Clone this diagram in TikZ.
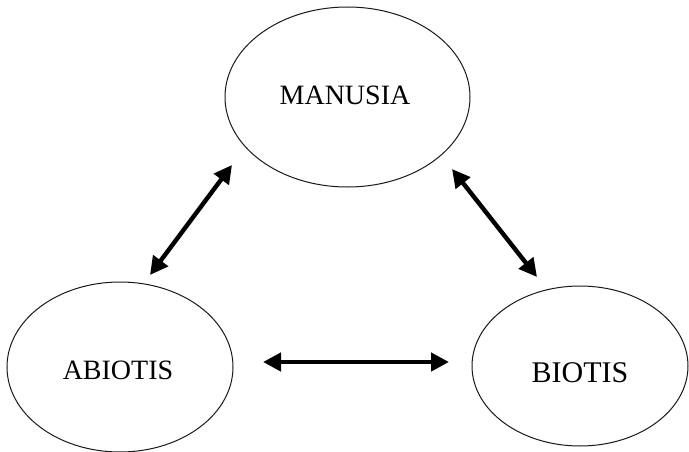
\documentclass[tikz,border=0pt]{standalone}
\usepackage{fontspec}
\setmainfont{Liberation Serif}
\usetikzlibrary{shapes.geometric,arrows.meta}
\begin{document}
\begin{tikzpicture}[x=1pt,y=-1pt,
  ell/.style={draw=black!90,line width=1pt,ellipse,inner sep=0pt},
  arr/.style={line width=4.4pt,{Triangle[length=18pt,width=18pt]}-{Triangle[length=18pt,width=18pt]}}]
\useasboundingbox (0,0) rectangle (689,452);
\node[ell,minimum width=245pt,minimum height=180pt] (m) at (347.5,97) {};
\node at (345,95) {\fontsize{28}{30}\selectfont MANUSIA};
\node[ell,minimum width=226pt,minimum height=170pt] (a) at (120,367) {};
\node at (118,370) {\fontsize{28}{30}\selectfont ABIOTIS};
\node[ell,minimum width=216pt,minimum height=160pt] (b) at (580,366) {};
\node at (580,373) {\fontsize{30}{32}\selectfont BIOTIS};
\coordinate (am) at (232,165);
\coordinate (ma) at (150,275);
\coordinate (bm) at (452,169);
\coordinate (mb) at (537,277);
\coordinate (ab) at (263,362);
\coordinate (ba) at (449,362);
\draw[arr] (ma) -- (am);
\draw[arr] (bm) -- (mb);
\draw[arr] (ab) -- (ba);
\end{tikzpicture}
\end{document}
